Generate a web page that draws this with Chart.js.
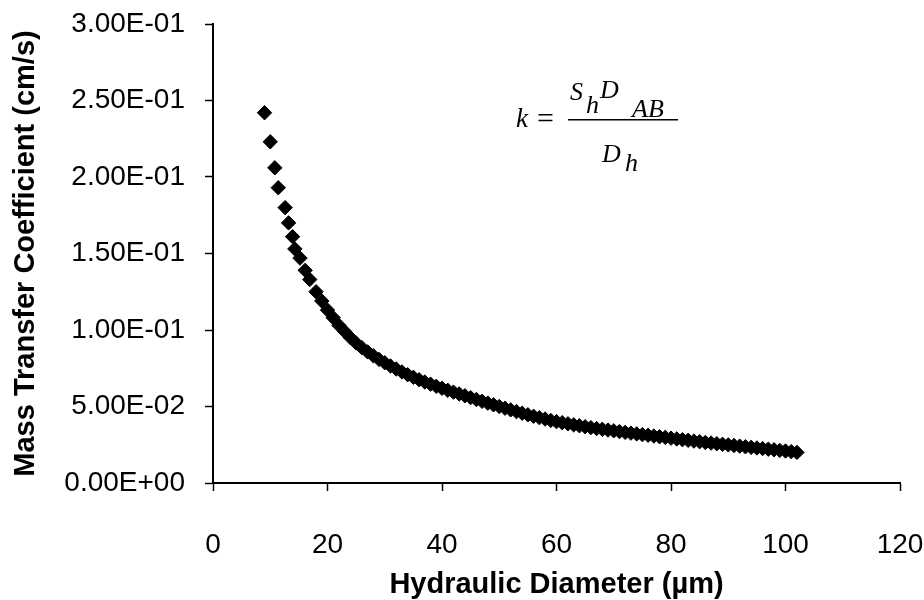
<!DOCTYPE html>
<html>
<head>
<meta charset="utf-8">
<script src="https://cdn.jsdelivr.net/npm/chart.js@4"></script>
<style>
  body { margin: 0; background: #fff; }
  #wrap { width: 924px; height: 600px; }
</style>
</head>
<body>
<div id="wrap"><canvas id="myChart" width="924" height="600"></canvas></div>
<script>
// hydraulic diameter (um) and mass transfer coefficient (cm/s)
var diameter = [
  9, 10, 10.8, 11.4, 12.6, 13.2, 13.9, 14.3, 15.2, 16.1, 16.9,
  18, 19, 20, 21, 22, 23, 24, 25, 26, 27, 28, 29, 30,
  31, 32, 33, 34, 35, 36, 37, 38, 39, 40,
  41, 42, 43, 44, 45, 46, 47, 48, 49, 50,
  51, 52, 53, 54, 55, 56, 57, 58, 59, 60,
  61, 62, 63, 64, 65, 66, 67, 68, 69, 70,
  71, 72, 73, 74, 75, 76, 77, 78, 79, 80,
  81, 82, 83, 84, 85, 86, 87, 88, 89, 90,
  91, 92, 93, 94, 95, 96, 97, 98, 99, 100,
  101, 102
];
var coefficient = [
  0.242, 0.223, 0.206, 0.193, 0.180, 0.170, 0.161, 0.153, 0.147, 0.139, 0.133,
  0.125, 0.119, 0.113, 0.108, 0.103, 0.099, 0.095, 0.0915, 0.0885, 0.0857, 0.0832, 0.0808, 0.0786,
  0.0765, 0.0745, 0.0726, 0.0708, 0.0691, 0.0675, 0.0660, 0.0646, 0.0632, 0.0619,
  0.0606, 0.0594, 0.0582, 0.0570, 0.0558, 0.0546, 0.0534, 0.0522, 0.0511, 0.0500,
  0.0489, 0.0478, 0.0467, 0.0456, 0.0446, 0.0436, 0.0427, 0.0418, 0.0409, 0.0401,
  0.0394, 0.0387, 0.0380, 0.0374, 0.0368, 0.0362, 0.0356, 0.0351, 0.0346, 0.0341,
  0.0336, 0.0331, 0.0326, 0.0321, 0.0316, 0.0312, 0.0307, 0.0302, 0.0298, 0.0293,
  0.0288, 0.0283, 0.0279, 0.0274, 0.0270, 0.0265, 0.0261, 0.0257, 0.0253, 0.0249,
  0.0245, 0.0241, 0.0237, 0.0233, 0.0229, 0.0225, 0.0221, 0.0217, 0.0213, 0.0209,
  0.0205, 0.0200
];
var xTicks = [0, 20, 40, 60, 80, 100, 120];
var yTicks = [0, 0.05, 0.1, 0.15, 0.2, 0.25, 0.3];

var points = diameter.map(function (d, i) {
  return { x: d, y: coefficient[i] };
});

function sci(v) {
  var s = Number(v).toExponential(2).split("e");
  var exp = parseInt(s[1], 10);
  var sign = exp < 0 ? "-" : "+";
  exp = Math.abs(exp);
  return s[0] + "E" + sign + (exp < 10 ? "0" + exp : exp);
}

// the k = Sh*DAB/Dh formula in the top right
var formula = {
  id: "formula",
  afterDraw: function (chart) {
    var c = chart.ctx;
    c.save();
    c.fillStyle = "#000";
    c.textBaseline = "alphabetic";
    c.font = "italic 27px 'Liberation Serif'";
    c.fillText("k", 516, 127);
    c.font = "30px 'Liberation Serif'";
    c.fillText("=", 537, 128);
    c.font = "italic 26px 'Liberation Serif'";
    c.fillText("S", 570, 100);
    c.fillText("D", 600, 98);
    c.fillText("AB", 632, 117);
    c.fillText("h", 586, 113);
    c.fillText("D", 602, 162);
    c.fillText("h", 625, 171);
    c.fillRect(568, 119, 110, 1.5);
    c.restore();
  }
};

function noPad(scale) {
  scale.paddingTop = 0;
  scale.paddingBottom = 0;
  scale.paddingLeft = 0;
  scale.paddingRight = 0;
}

var ctx = document.getElementById("myChart").getContext("2d");

var myChart = new Chart(ctx, {
  type: "scatter",
  data: {
    datasets: [
      {
        label: "k",
        data: points,
        pointStyle: "rectRot",
        pointRadius: 7.2,
        pointHoverRadius: 7.2,
        backgroundColor: "#000",
        borderColor: "#000",
        borderWidth: 1,
      },
    ],
  },
  options: {
    responsive: false,
    animation: false,
    layout: {
      padding: { top: 24, right: 24, left: 0, bottom: 0 },
    },
    plugins: {
      legend: { display: false },
      tooltip: { enabled: false },
    },
    scales: {
      x: {
        type: "linear",
        min: 0,
        max: 120,
        afterBuildTicks: function (scale) {
          scale.ticks = xTicks.map(function (v) { return { value: v }; });
        },
        afterFit: function (scale) {
          scale.height = 117;
          noPad(scale);
        },
        grid: {
          drawOnChartArea: false,
          drawTicks: true,
          tickLength: 8,
          tickColor: "#000",
          tickWidth: 1.5,
        },
        border: { display: true, color: "#000", width: 2 },
        ticks: {
          color: "#000",
          padding: 37,
          maxRotation: 0,
          font: { family: "'Liberation Sans', Arial", size: 28 },
        },
        title: {
          display: true,
          text: "Hydraulic Diameter (\u00b5m)",
          color: "#000",
          padding: { top: 0, bottom: -2 },
          font: { family: "'Liberation Sans', Arial", size: 29, weight: "bold" },
        },
      },
      y: {
        type: "linear",
        min: 0,
        max: 0.3,
        afterBuildTicks: function (scale) {
          scale.ticks = yTicks.map(function (v) { return { value: v }; });
        },
        afterFit: function (scale) {
          scale.width = 213;
          noPad(scale);
        },
        grid: {
          drawOnChartArea: false,
          drawTicks: true,
          tickLength: 8,
          tickColor: "#000",
          tickWidth: 1.5,
        },
        border: { display: true, color: "#000", width: 2 },
        ticks: {
          color: "#000",
          padding: 20,
          callback: function (v) { return sci(v); },
          font: { family: "'Liberation Sans', Arial", size: 28 },
        },
        title: {
          display: true,
          text: "Mass Transfer Coefficient (cm/s)",
          color: "#000",
          padding: { top: 9, bottom: 0 },
          font: { family: "'Liberation Sans', Arial", size: 29, weight: "bold" },
        },
      },
    },
  },
  plugins: [formula],
});
</script>
</body>
</html>
